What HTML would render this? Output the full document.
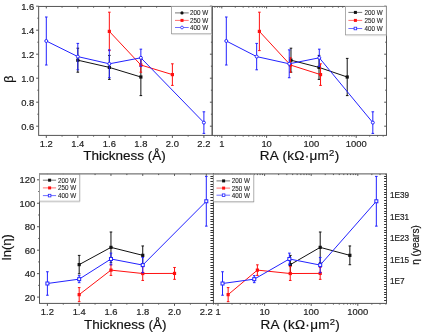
<!DOCTYPE html>
<html><head><meta charset="utf-8"><style>
html,body{margin:0;padding:0;background:#fff;width:422px;height:333px;overflow:hidden;font-family:"Liberation Sans",sans-serif;}
svg{display:block;will-change:transform;}
</style></head><body>
<svg width="422" height="333" viewBox="0 0 422 333" font-family="Liberation Sans, sans-serif">
<style>text{stroke:#222;stroke-width:0.2px;paint-order:stroke;} text.lg{stroke:#333;stroke-width:0.1px;}</style>
<rect width="422" height="333" fill="#fff"/>
<polyline points="77.82,60.20 109.34,67.40 140.86,77.00" fill="none" stroke="#111" stroke-width="1"/>
<line x1="77.82" y1="48.20" x2="77.82" y2="72.20" stroke="#111" stroke-width="1" />
<line x1="76.52" y1="48.20" x2="79.12" y2="48.20" stroke="#111" stroke-width="1" />
<line x1="76.52" y1="72.20" x2="79.12" y2="72.20" stroke="#111" stroke-width="1" />
<line x1="109.34" y1="55.40" x2="109.34" y2="79.40" stroke="#111" stroke-width="1" />
<line x1="108.04" y1="55.40" x2="110.64" y2="55.40" stroke="#111" stroke-width="1" />
<line x1="108.04" y1="79.40" x2="110.64" y2="79.40" stroke="#111" stroke-width="1" />
<line x1="140.86" y1="58.40" x2="140.86" y2="95.60" stroke="#111" stroke-width="1" />
<line x1="139.56" y1="58.40" x2="142.16" y2="58.40" stroke="#111" stroke-width="1" />
<line x1="139.56" y1="95.60" x2="142.16" y2="95.60" stroke="#111" stroke-width="1" />
<rect x="76.22" y="58.60" width="3.2" height="3.2" fill="#111"/>
<rect x="107.74" y="65.80" width="3.2" height="3.2" fill="#111"/>
<rect x="139.26" y="75.40" width="3.2" height="3.2" fill="#111"/>
<polyline points="109.34,31.40 140.86,65.00 172.38,74.60" fill="none" stroke="#ff1010" stroke-width="1"/>
<line x1="109.34" y1="12.20" x2="109.34" y2="50.60" stroke="#ff1010" stroke-width="1" />
<line x1="108.04" y1="12.20" x2="110.64" y2="12.20" stroke="#ff1010" stroke-width="1" />
<line x1="108.04" y1="50.60" x2="110.64" y2="50.60" stroke="#ff1010" stroke-width="1" />
<line x1="140.86" y1="57.80" x2="140.86" y2="72.20" stroke="#ff1010" stroke-width="1" />
<line x1="139.56" y1="57.80" x2="142.16" y2="57.80" stroke="#ff1010" stroke-width="1" />
<line x1="139.56" y1="72.20" x2="142.16" y2="72.20" stroke="#ff1010" stroke-width="1" />
<line x1="172.38" y1="63.80" x2="172.38" y2="85.40" stroke="#ff1010" stroke-width="1" />
<line x1="171.08" y1="63.80" x2="173.68" y2="63.80" stroke="#ff1010" stroke-width="1" />
<line x1="171.08" y1="85.40" x2="173.68" y2="85.40" stroke="#ff1010" stroke-width="1" />
<rect x="107.74" y="29.80" width="3.2" height="3.2" fill="#ff1010"/>
<rect x="139.26" y="63.40" width="3.2" height="3.2" fill="#ff1010"/>
<rect x="170.78" y="73.00" width="3.2" height="3.2" fill="#ff1010"/>
<polyline points="46.30,41.00 77.82,56.60 109.34,63.80 140.86,57.80 203.90,122.60" fill="none" stroke="#2222ff" stroke-width="1"/>
<line x1="46.30" y1="17.00" x2="46.30" y2="65.00" stroke="#2222ff" stroke-width="1" />
<line x1="45.00" y1="17.00" x2="47.60" y2="17.00" stroke="#2222ff" stroke-width="1" />
<line x1="45.00" y1="65.00" x2="47.60" y2="65.00" stroke="#2222ff" stroke-width="1" />
<line x1="77.82" y1="43.40" x2="77.82" y2="69.80" stroke="#2222ff" stroke-width="1" />
<line x1="76.52" y1="43.40" x2="79.12" y2="43.40" stroke="#2222ff" stroke-width="1" />
<line x1="76.52" y1="69.80" x2="79.12" y2="69.80" stroke="#2222ff" stroke-width="1" />
<line x1="109.34" y1="49.88" x2="109.34" y2="77.72" stroke="#2222ff" stroke-width="1" />
<line x1="108.04" y1="49.88" x2="110.64" y2="49.88" stroke="#2222ff" stroke-width="1" />
<line x1="108.04" y1="77.72" x2="110.64" y2="77.72" stroke="#2222ff" stroke-width="1" />
<line x1="140.86" y1="49.16" x2="140.86" y2="66.44" stroke="#2222ff" stroke-width="1" />
<line x1="139.56" y1="49.16" x2="142.16" y2="49.16" stroke="#2222ff" stroke-width="1" />
<line x1="139.56" y1="66.44" x2="142.16" y2="66.44" stroke="#2222ff" stroke-width="1" />
<line x1="203.90" y1="111.80" x2="203.90" y2="133.40" stroke="#2222ff" stroke-width="1" />
<line x1="202.60" y1="111.80" x2="205.20" y2="111.80" stroke="#2222ff" stroke-width="1" />
<line x1="202.60" y1="133.40" x2="205.20" y2="133.40" stroke="#2222ff" stroke-width="1" />
<circle cx="46.30" cy="41.00" r="1.5" fill="#fff" stroke="#2222ff" stroke-width="1"/>
<circle cx="77.82" cy="56.60" r="1.5" fill="#fff" stroke="#2222ff" stroke-width="1"/>
<circle cx="109.34" cy="63.80" r="1.5" fill="#fff" stroke="#2222ff" stroke-width="1"/>
<circle cx="140.86" cy="57.80" r="1.5" fill="#fff" stroke="#2222ff" stroke-width="1"/>
<circle cx="203.90" cy="122.60" r="1.5" fill="#fff" stroke="#2222ff" stroke-width="1"/>
<polyline points="290.97,60.20 319.03,67.40 347.21,77.00" fill="none" stroke="#111" stroke-width="1"/>
<line x1="290.97" y1="48.20" x2="290.97" y2="72.20" stroke="#111" stroke-width="1" />
<line x1="289.67" y1="48.20" x2="292.27" y2="48.20" stroke="#111" stroke-width="1" />
<line x1="289.67" y1="72.20" x2="292.27" y2="72.20" stroke="#111" stroke-width="1" />
<line x1="319.03" y1="55.40" x2="319.03" y2="79.40" stroke="#111" stroke-width="1" />
<line x1="317.73" y1="55.40" x2="320.33" y2="55.40" stroke="#111" stroke-width="1" />
<line x1="317.73" y1="79.40" x2="320.33" y2="79.40" stroke="#111" stroke-width="1" />
<line x1="347.21" y1="58.40" x2="347.21" y2="95.60" stroke="#111" stroke-width="1" />
<line x1="345.91" y1="58.40" x2="348.51" y2="58.40" stroke="#111" stroke-width="1" />
<line x1="345.91" y1="95.60" x2="348.51" y2="95.60" stroke="#111" stroke-width="1" />
<rect x="289.37" y="58.60" width="3.2" height="3.2" fill="#111"/>
<rect x="317.43" y="65.80" width="3.2" height="3.2" fill="#111"/>
<rect x="345.61" y="75.40" width="3.2" height="3.2" fill="#111"/>
<polyline points="259.38,31.40 290.41,65.00 320.54,74.60" fill="none" stroke="#ff1010" stroke-width="1"/>
<line x1="259.38" y1="12.20" x2="259.38" y2="50.60" stroke="#ff1010" stroke-width="1" />
<line x1="258.08" y1="12.20" x2="260.68" y2="12.20" stroke="#ff1010" stroke-width="1" />
<line x1="258.08" y1="50.60" x2="260.68" y2="50.60" stroke="#ff1010" stroke-width="1" />
<line x1="290.41" y1="57.80" x2="290.41" y2="72.20" stroke="#ff1010" stroke-width="1" />
<line x1="289.11" y1="57.80" x2="291.71" y2="57.80" stroke="#ff1010" stroke-width="1" />
<line x1="289.11" y1="72.20" x2="291.71" y2="72.20" stroke="#ff1010" stroke-width="1" />
<line x1="320.54" y1="63.80" x2="320.54" y2="85.40" stroke="#ff1010" stroke-width="1" />
<line x1="319.24" y1="63.80" x2="321.84" y2="63.80" stroke="#ff1010" stroke-width="1" />
<line x1="319.24" y1="85.40" x2="321.84" y2="85.40" stroke="#ff1010" stroke-width="1" />
<rect x="257.78" y="29.80" width="3.2" height="3.2" fill="#ff1010"/>
<rect x="288.81" y="63.40" width="3.2" height="3.2" fill="#ff1010"/>
<rect x="318.94" y="73.00" width="3.2" height="3.2" fill="#ff1010"/>
<polyline points="226.30,41.00 256.66,56.60 289.23,63.80 319.29,57.80 372.82,122.60" fill="none" stroke="#2222ff" stroke-width="1"/>
<line x1="226.30" y1="17.00" x2="226.30" y2="65.00" stroke="#2222ff" stroke-width="1" />
<line x1="225.00" y1="17.00" x2="227.60" y2="17.00" stroke="#2222ff" stroke-width="1" />
<line x1="225.00" y1="65.00" x2="227.60" y2="65.00" stroke="#2222ff" stroke-width="1" />
<line x1="256.66" y1="43.40" x2="256.66" y2="69.80" stroke="#2222ff" stroke-width="1" />
<line x1="255.36" y1="43.40" x2="257.96" y2="43.40" stroke="#2222ff" stroke-width="1" />
<line x1="255.36" y1="69.80" x2="257.96" y2="69.80" stroke="#2222ff" stroke-width="1" />
<line x1="289.23" y1="49.88" x2="289.23" y2="77.72" stroke="#2222ff" stroke-width="1" />
<line x1="287.93" y1="49.88" x2="290.53" y2="49.88" stroke="#2222ff" stroke-width="1" />
<line x1="287.93" y1="77.72" x2="290.53" y2="77.72" stroke="#2222ff" stroke-width="1" />
<line x1="319.29" y1="49.16" x2="319.29" y2="66.44" stroke="#2222ff" stroke-width="1" />
<line x1="317.99" y1="49.16" x2="320.59" y2="49.16" stroke="#2222ff" stroke-width="1" />
<line x1="317.99" y1="66.44" x2="320.59" y2="66.44" stroke="#2222ff" stroke-width="1" />
<line x1="372.82" y1="111.80" x2="372.82" y2="133.40" stroke="#2222ff" stroke-width="1" />
<line x1="371.52" y1="111.80" x2="374.12" y2="111.80" stroke="#2222ff" stroke-width="1" />
<line x1="371.52" y1="133.40" x2="374.12" y2="133.40" stroke="#2222ff" stroke-width="1" />
<circle cx="226.30" cy="41.00" r="1.5" fill="#fff" stroke="#2222ff" stroke-width="1"/>
<circle cx="256.66" cy="56.60" r="1.5" fill="#fff" stroke="#2222ff" stroke-width="1"/>
<circle cx="289.23" cy="63.80" r="1.5" fill="#fff" stroke="#2222ff" stroke-width="1"/>
<circle cx="319.29" cy="57.80" r="1.5" fill="#fff" stroke="#2222ff" stroke-width="1"/>
<circle cx="372.82" cy="122.60" r="1.5" fill="#fff" stroke="#2222ff" stroke-width="1"/>
<polyline points="79.18,264.61 110.96,247.36 142.74,255.34" fill="none" stroke="#111" stroke-width="1"/>
<line x1="79.18" y1="255.40" x2="79.18" y2="273.82" stroke="#111" stroke-width="1" />
<line x1="77.88" y1="255.40" x2="80.48" y2="255.40" stroke="#111" stroke-width="1" />
<line x1="77.88" y1="273.82" x2="80.48" y2="273.82" stroke="#111" stroke-width="1" />
<line x1="110.96" y1="232.00" x2="110.96" y2="262.73" stroke="#111" stroke-width="1" />
<line x1="109.66" y1="232.00" x2="112.26" y2="232.00" stroke="#111" stroke-width="1" />
<line x1="109.66" y1="262.73" x2="112.26" y2="262.73" stroke="#111" stroke-width="1" />
<line x1="142.74" y1="245.96" x2="142.74" y2="264.73" stroke="#111" stroke-width="1" />
<line x1="141.44" y1="245.96" x2="144.04" y2="245.96" stroke="#111" stroke-width="1" />
<line x1="141.44" y1="264.73" x2="144.04" y2="264.73" stroke="#111" stroke-width="1" />
<rect x="77.58" y="263.01" width="3.2" height="3.2" fill="#111"/>
<rect x="109.36" y="245.76" width="3.2" height="3.2" fill="#111"/>
<rect x="141.14" y="253.74" width="3.2" height="3.2" fill="#111"/>
<polyline points="79.18,294.64 110.96,270.12 142.74,273.52 174.52,273.41" fill="none" stroke="#ff1010" stroke-width="1"/>
<line x1="79.18" y1="287.60" x2="79.18" y2="301.67" stroke="#ff1010" stroke-width="1" />
<line x1="77.88" y1="287.60" x2="80.48" y2="287.60" stroke="#ff1010" stroke-width="1" />
<line x1="77.88" y1="301.67" x2="80.48" y2="301.67" stroke="#ff1010" stroke-width="1" />
<line x1="110.96" y1="264.84" x2="110.96" y2="275.40" stroke="#ff1010" stroke-width="1" />
<line x1="109.66" y1="264.84" x2="112.26" y2="264.84" stroke="#ff1010" stroke-width="1" />
<line x1="109.66" y1="275.40" x2="112.26" y2="275.40" stroke="#ff1010" stroke-width="1" />
<line x1="142.74" y1="266.60" x2="142.74" y2="280.44" stroke="#ff1010" stroke-width="1" />
<line x1="141.44" y1="266.60" x2="144.04" y2="266.60" stroke="#ff1010" stroke-width="1" />
<line x1="141.44" y1="280.44" x2="144.04" y2="280.44" stroke="#ff1010" stroke-width="1" />
<line x1="174.52" y1="267.48" x2="174.52" y2="279.33" stroke="#ff1010" stroke-width="1" />
<line x1="173.22" y1="267.48" x2="175.82" y2="267.48" stroke="#ff1010" stroke-width="1" />
<line x1="173.22" y1="279.33" x2="175.82" y2="279.33" stroke="#ff1010" stroke-width="1" />
<rect x="77.58" y="293.04" width="3.2" height="3.2" fill="#ff1010"/>
<rect x="109.36" y="268.52" width="3.2" height="3.2" fill="#ff1010"/>
<rect x="141.14" y="271.92" width="3.2" height="3.2" fill="#ff1010"/>
<rect x="172.92" y="271.81" width="3.2" height="3.2" fill="#ff1010"/>
<polyline points="47.40,283.49 79.18,279.15 110.96,258.98 142.74,265.08 206.30,201.27" fill="none" stroke="#2222ff" stroke-width="1"/>
<line x1="47.40" y1="271.76" x2="47.40" y2="295.22" stroke="#2222ff" stroke-width="1" />
<line x1="46.10" y1="271.76" x2="48.70" y2="271.76" stroke="#2222ff" stroke-width="1" />
<line x1="46.10" y1="295.22" x2="48.70" y2="295.22" stroke="#2222ff" stroke-width="1" />
<line x1="79.18" y1="275.63" x2="79.18" y2="282.67" stroke="#2222ff" stroke-width="1" />
<line x1="77.88" y1="275.63" x2="80.48" y2="275.63" stroke="#2222ff" stroke-width="1" />
<line x1="77.88" y1="282.67" x2="80.48" y2="282.67" stroke="#2222ff" stroke-width="1" />
<line x1="110.96" y1="253.11" x2="110.96" y2="264.84" stroke="#2222ff" stroke-width="1" />
<line x1="109.66" y1="253.11" x2="112.26" y2="253.11" stroke="#2222ff" stroke-width="1" />
<line x1="109.66" y1="264.84" x2="112.26" y2="264.84" stroke="#2222ff" stroke-width="1" />
<line x1="142.74" y1="257.45" x2="142.74" y2="272.70" stroke="#2222ff" stroke-width="1" />
<line x1="141.44" y1="257.45" x2="144.04" y2="257.45" stroke="#2222ff" stroke-width="1" />
<line x1="141.44" y1="272.70" x2="144.04" y2="272.70" stroke="#2222ff" stroke-width="1" />
<line x1="206.30" y1="176.40" x2="206.30" y2="226.13" stroke="#2222ff" stroke-width="1" />
<line x1="205.00" y1="176.40" x2="207.60" y2="176.40" stroke="#2222ff" stroke-width="1" />
<line x1="205.00" y1="226.13" x2="207.60" y2="226.13" stroke="#2222ff" stroke-width="1" />
<rect x="45.90" y="281.99" width="3" height="3" fill="#fff" stroke="#2222ff" stroke-width="1"/>
<rect x="77.68" y="277.65" width="3" height="3" fill="#fff" stroke="#2222ff" stroke-width="1"/>
<rect x="109.46" y="257.48" width="3" height="3" fill="#fff" stroke="#2222ff" stroke-width="1"/>
<rect x="141.24" y="263.58" width="3" height="3" fill="#fff" stroke="#2222ff" stroke-width="1"/>
<rect x="204.80" y="199.77" width="3" height="3" fill="#fff" stroke="#2222ff" stroke-width="1"/>
<polyline points="290.35,264.61 320.20,247.36 349.85,255.34" fill="none" stroke="#111" stroke-width="1"/>
<line x1="290.35" y1="255.40" x2="290.35" y2="273.82" stroke="#111" stroke-width="1" />
<line x1="289.05" y1="255.40" x2="291.65" y2="255.40" stroke="#111" stroke-width="1" />
<line x1="289.05" y1="273.82" x2="291.65" y2="273.82" stroke="#111" stroke-width="1" />
<line x1="320.20" y1="232.00" x2="320.20" y2="262.73" stroke="#111" stroke-width="1" />
<line x1="318.90" y1="232.00" x2="321.50" y2="232.00" stroke="#111" stroke-width="1" />
<line x1="318.90" y1="262.73" x2="321.50" y2="262.73" stroke="#111" stroke-width="1" />
<line x1="349.85" y1="245.96" x2="349.85" y2="264.73" stroke="#111" stroke-width="1" />
<line x1="348.55" y1="245.96" x2="351.15" y2="245.96" stroke="#111" stroke-width="1" />
<line x1="348.55" y1="264.73" x2="351.15" y2="264.73" stroke="#111" stroke-width="1" />
<rect x="288.75" y="263.01" width="3.2" height="3.2" fill="#111"/>
<rect x="318.60" y="245.76" width="3.2" height="3.2" fill="#111"/>
<rect x="348.25" y="253.74" width="3.2" height="3.2" fill="#111"/>
<polyline points="228.13,294.64 257.38,270.12 290.24,273.52 320.20,273.41" fill="none" stroke="#ff1010" stroke-width="1"/>
<line x1="228.13" y1="287.60" x2="228.13" y2="301.67" stroke="#ff1010" stroke-width="1" />
<line x1="226.83" y1="287.60" x2="229.43" y2="287.60" stroke="#ff1010" stroke-width="1" />
<line x1="226.83" y1="301.67" x2="229.43" y2="301.67" stroke="#ff1010" stroke-width="1" />
<line x1="257.38" y1="264.84" x2="257.38" y2="275.40" stroke="#ff1010" stroke-width="1" />
<line x1="256.08" y1="264.84" x2="258.68" y2="264.84" stroke="#ff1010" stroke-width="1" />
<line x1="256.08" y1="275.40" x2="258.68" y2="275.40" stroke="#ff1010" stroke-width="1" />
<line x1="290.24" y1="266.60" x2="290.24" y2="280.44" stroke="#ff1010" stroke-width="1" />
<line x1="288.94" y1="266.60" x2="291.54" y2="266.60" stroke="#ff1010" stroke-width="1" />
<line x1="288.94" y1="280.44" x2="291.54" y2="280.44" stroke="#ff1010" stroke-width="1" />
<line x1="320.20" y1="267.48" x2="320.20" y2="279.33" stroke="#ff1010" stroke-width="1" />
<line x1="318.90" y1="267.48" x2="321.50" y2="267.48" stroke="#ff1010" stroke-width="1" />
<line x1="318.90" y1="279.33" x2="321.50" y2="279.33" stroke="#ff1010" stroke-width="1" />
<rect x="226.53" y="293.04" width="3.2" height="3.2" fill="#ff1010"/>
<rect x="255.78" y="268.52" width="3.2" height="3.2" fill="#ff1010"/>
<rect x="288.64" y="271.92" width="3.2" height="3.2" fill="#ff1010"/>
<rect x="318.60" y="271.81" width="3.2" height="3.2" fill="#ff1010"/>
<polyline points="222.52,283.49 254.26,279.15 289.37,258.98 320.20,265.08 376.34,201.27" fill="none" stroke="#2222ff" stroke-width="1"/>
<line x1="222.52" y1="271.76" x2="222.52" y2="295.22" stroke="#2222ff" stroke-width="1" />
<line x1="221.22" y1="271.76" x2="223.82" y2="271.76" stroke="#2222ff" stroke-width="1" />
<line x1="221.22" y1="295.22" x2="223.82" y2="295.22" stroke="#2222ff" stroke-width="1" />
<line x1="254.26" y1="275.63" x2="254.26" y2="282.67" stroke="#2222ff" stroke-width="1" />
<line x1="252.96" y1="275.63" x2="255.56" y2="275.63" stroke="#2222ff" stroke-width="1" />
<line x1="252.96" y1="282.67" x2="255.56" y2="282.67" stroke="#2222ff" stroke-width="1" />
<line x1="289.37" y1="253.11" x2="289.37" y2="264.84" stroke="#2222ff" stroke-width="1" />
<line x1="288.07" y1="253.11" x2="290.67" y2="253.11" stroke="#2222ff" stroke-width="1" />
<line x1="288.07" y1="264.84" x2="290.67" y2="264.84" stroke="#2222ff" stroke-width="1" />
<line x1="320.20" y1="257.45" x2="320.20" y2="272.70" stroke="#2222ff" stroke-width="1" />
<line x1="318.90" y1="257.45" x2="321.50" y2="257.45" stroke="#2222ff" stroke-width="1" />
<line x1="318.90" y1="272.70" x2="321.50" y2="272.70" stroke="#2222ff" stroke-width="1" />
<line x1="376.34" y1="176.40" x2="376.34" y2="226.13" stroke="#2222ff" stroke-width="1" />
<line x1="375.04" y1="176.40" x2="377.64" y2="176.40" stroke="#2222ff" stroke-width="1" />
<line x1="375.04" y1="226.13" x2="377.64" y2="226.13" stroke="#2222ff" stroke-width="1" />
<rect x="221.02" y="281.99" width="3" height="3" fill="#fff" stroke="#2222ff" stroke-width="1"/>
<rect x="252.76" y="277.65" width="3" height="3" fill="#fff" stroke="#2222ff" stroke-width="1"/>
<rect x="287.87" y="257.48" width="3" height="3" fill="#fff" stroke="#2222ff" stroke-width="1"/>
<rect x="318.70" y="263.58" width="3" height="3" fill="#fff" stroke="#2222ff" stroke-width="1"/>
<rect x="374.84" y="199.77" width="3" height="3" fill="#fff" stroke="#2222ff" stroke-width="1"/>
<rect x="38.65" y="6.45" width="173.55" height="128.95" fill="none" stroke="#555" stroke-width="1.0"/>
<rect x="212.20" y="6.45" width="174.30" height="128.95" fill="none" stroke="#555" stroke-width="1.0"/>
<rect x="39.50" y="173.90" width="173.95" height="129.50" fill="none" stroke="#555" stroke-width="1.0"/>
<rect x="213.45" y="173.90" width="173.05" height="129.50" fill="none" stroke="#555" stroke-width="1.0"/>
<line x1="36.15" y1="126.20" x2="38.65" y2="126.20" stroke="#555" stroke-width="1" />
<line x1="36.15" y1="102.20" x2="38.65" y2="102.20" stroke="#555" stroke-width="1" />
<line x1="36.15" y1="78.20" x2="38.65" y2="78.20" stroke="#555" stroke-width="1" />
<line x1="36.15" y1="54.20" x2="38.65" y2="54.20" stroke="#555" stroke-width="1" />
<line x1="36.15" y1="30.20" x2="38.65" y2="30.20" stroke="#555" stroke-width="1" />
<line x1="36.15" y1="6.20" x2="38.65" y2="6.20" stroke="#555" stroke-width="1" />
<line x1="37.35" y1="114.20" x2="38.65" y2="114.20" stroke="#555" stroke-width="1" />
<line x1="37.35" y1="90.20" x2="38.65" y2="90.20" stroke="#555" stroke-width="1" />
<line x1="37.35" y1="66.20" x2="38.65" y2="66.20" stroke="#555" stroke-width="1" />
<line x1="37.35" y1="42.20" x2="38.65" y2="42.20" stroke="#555" stroke-width="1" />
<line x1="37.35" y1="18.20" x2="38.65" y2="18.20" stroke="#555" stroke-width="1" />
<text transform="translate(34.20,129.60) scale(0.96,1)" font-size="9.8" text-anchor="end" fill="#222">0.6</text>
<text transform="translate(34.20,105.60) scale(0.96,1)" font-size="9.8" text-anchor="end" fill="#222">0.8</text>
<text transform="translate(34.20,81.60) scale(0.96,1)" font-size="9.8" text-anchor="end" fill="#222">1.0</text>
<text transform="translate(34.20,57.60) scale(0.96,1)" font-size="9.8" text-anchor="end" fill="#222">1.2</text>
<text transform="translate(34.20,33.60) scale(0.96,1)" font-size="9.8" text-anchor="end" fill="#222">1.4</text>
<text transform="translate(34.20,9.60) scale(0.96,1)" font-size="9.8" text-anchor="end" fill="#222">1.6</text>
<line x1="209.90" y1="126.20" x2="212.20" y2="126.20" stroke="#555" stroke-width="1" />
<line x1="209.90" y1="102.20" x2="212.20" y2="102.20" stroke="#555" stroke-width="1" />
<line x1="209.90" y1="78.20" x2="212.20" y2="78.20" stroke="#555" stroke-width="1" />
<line x1="209.90" y1="54.20" x2="212.20" y2="54.20" stroke="#555" stroke-width="1" />
<line x1="209.90" y1="30.20" x2="212.20" y2="30.20" stroke="#555" stroke-width="1" />
<line x1="209.90" y1="6.20" x2="212.20" y2="6.20" stroke="#555" stroke-width="1" />
<line x1="210.90" y1="114.20" x2="212.20" y2="114.20" stroke="#555" stroke-width="1" />
<line x1="210.90" y1="90.20" x2="212.20" y2="90.20" stroke="#555" stroke-width="1" />
<line x1="210.90" y1="66.20" x2="212.20" y2="66.20" stroke="#555" stroke-width="1" />
<line x1="210.90" y1="42.20" x2="212.20" y2="42.20" stroke="#555" stroke-width="1" />
<line x1="210.90" y1="18.20" x2="212.20" y2="18.20" stroke="#555" stroke-width="1" />
<line x1="46.30" y1="135.40" x2="46.30" y2="137.90" stroke="#555" stroke-width="1" />
<line x1="77.82" y1="135.40" x2="77.82" y2="137.90" stroke="#555" stroke-width="1" />
<line x1="109.34" y1="135.40" x2="109.34" y2="137.90" stroke="#555" stroke-width="1" />
<line x1="140.86" y1="135.40" x2="140.86" y2="137.90" stroke="#555" stroke-width="1" />
<line x1="172.38" y1="135.40" x2="172.38" y2="137.90" stroke="#555" stroke-width="1" />
<line x1="203.90" y1="135.40" x2="203.90" y2="137.90" stroke="#555" stroke-width="1" />
<line x1="62.06" y1="135.40" x2="62.06" y2="136.60" stroke="#555" stroke-width="1" />
<line x1="93.58" y1="135.40" x2="93.58" y2="136.60" stroke="#555" stroke-width="1" />
<line x1="125.10" y1="135.40" x2="125.10" y2="136.60" stroke="#555" stroke-width="1" />
<line x1="156.62" y1="135.40" x2="156.62" y2="136.60" stroke="#555" stroke-width="1" />
<line x1="188.14" y1="135.40" x2="188.14" y2="136.60" stroke="#555" stroke-width="1" />
<text transform="translate(46.30,147.40) scale(0.96,1)" font-size="9.8" text-anchor="middle" fill="#222">1.2</text>
<text transform="translate(77.82,147.40) scale(0.96,1)" font-size="9.8" text-anchor="middle" fill="#222">1.4</text>
<text transform="translate(109.34,147.40) scale(0.96,1)" font-size="9.8" text-anchor="middle" fill="#222">1.6</text>
<text transform="translate(140.86,147.40) scale(0.96,1)" font-size="9.8" text-anchor="middle" fill="#222">1.8</text>
<text transform="translate(172.38,147.40) scale(0.96,1)" font-size="9.8" text-anchor="middle" fill="#222">2.0</text>
<text transform="translate(203.90,147.40) scale(0.96,1)" font-size="9.8" text-anchor="middle" fill="#222">2.2</text>
<line x1="46.30" y1="6.45" x2="46.30" y2="8.45" stroke="#555" stroke-width="1" />
<line x1="77.82" y1="6.45" x2="77.82" y2="8.45" stroke="#555" stroke-width="1" />
<line x1="109.34" y1="6.45" x2="109.34" y2="8.45" stroke="#555" stroke-width="1" />
<line x1="140.86" y1="6.45" x2="140.86" y2="8.45" stroke="#555" stroke-width="1" />
<line x1="172.38" y1="6.45" x2="172.38" y2="8.45" stroke="#555" stroke-width="1" />
<line x1="203.90" y1="6.45" x2="203.90" y2="8.45" stroke="#555" stroke-width="1" />
<line x1="62.06" y1="6.45" x2="62.06" y2="7.65" stroke="#555" stroke-width="1" />
<line x1="93.58" y1="6.45" x2="93.58" y2="7.65" stroke="#555" stroke-width="1" />
<line x1="125.10" y1="6.45" x2="125.10" y2="7.65" stroke="#555" stroke-width="1" />
<line x1="156.62" y1="6.45" x2="156.62" y2="7.65" stroke="#555" stroke-width="1" />
<line x1="188.14" y1="6.45" x2="188.14" y2="7.65" stroke="#555" stroke-width="1" />
<line x1="384.20" y1="126.20" x2="386.50" y2="126.20" stroke="#555" stroke-width="1" />
<line x1="384.20" y1="102.20" x2="386.50" y2="102.20" stroke="#555" stroke-width="1" />
<line x1="384.20" y1="78.20" x2="386.50" y2="78.20" stroke="#555" stroke-width="1" />
<line x1="384.20" y1="54.20" x2="386.50" y2="54.20" stroke="#555" stroke-width="1" />
<line x1="384.20" y1="30.20" x2="386.50" y2="30.20" stroke="#555" stroke-width="1" />
<line x1="384.20" y1="6.20" x2="386.50" y2="6.20" stroke="#555" stroke-width="1" />
<line x1="385.20" y1="114.20" x2="386.50" y2="114.20" stroke="#555" stroke-width="1" />
<line x1="385.20" y1="90.20" x2="386.50" y2="90.20" stroke="#555" stroke-width="1" />
<line x1="385.20" y1="66.20" x2="386.50" y2="66.20" stroke="#555" stroke-width="1" />
<line x1="385.20" y1="42.20" x2="386.50" y2="42.20" stroke="#555" stroke-width="1" />
<line x1="385.20" y1="18.20" x2="386.50" y2="18.20" stroke="#555" stroke-width="1" />
<line x1="221.80" y1="135.40" x2="221.80" y2="137.90" stroke="#555" stroke-width="1" />
<line x1="266.60" y1="135.40" x2="266.60" y2="137.90" stroke="#555" stroke-width="1" />
<line x1="311.40" y1="135.40" x2="311.40" y2="137.90" stroke="#555" stroke-width="1" />
<line x1="356.20" y1="135.40" x2="356.20" y2="137.90" stroke="#555" stroke-width="1" />
<line x1="214.86" y1="135.40" x2="214.86" y2="136.60" stroke="#555" stroke-width="1" />
<line x1="217.46" y1="135.40" x2="217.46" y2="136.60" stroke="#555" stroke-width="1" />
<line x1="219.75" y1="135.40" x2="219.75" y2="136.60" stroke="#555" stroke-width="1" />
<line x1="235.29" y1="135.40" x2="235.29" y2="136.60" stroke="#555" stroke-width="1" />
<line x1="243.18" y1="135.40" x2="243.18" y2="136.60" stroke="#555" stroke-width="1" />
<line x1="248.77" y1="135.40" x2="248.77" y2="136.60" stroke="#555" stroke-width="1" />
<line x1="253.11" y1="135.40" x2="253.11" y2="136.60" stroke="#555" stroke-width="1" />
<line x1="256.66" y1="135.40" x2="256.66" y2="136.60" stroke="#555" stroke-width="1" />
<line x1="259.66" y1="135.40" x2="259.66" y2="136.60" stroke="#555" stroke-width="1" />
<line x1="262.26" y1="135.40" x2="262.26" y2="136.60" stroke="#555" stroke-width="1" />
<line x1="264.55" y1="135.40" x2="264.55" y2="136.60" stroke="#555" stroke-width="1" />
<line x1="280.09" y1="135.40" x2="280.09" y2="136.60" stroke="#555" stroke-width="1" />
<line x1="287.98" y1="135.40" x2="287.98" y2="136.60" stroke="#555" stroke-width="1" />
<line x1="293.57" y1="135.40" x2="293.57" y2="136.60" stroke="#555" stroke-width="1" />
<line x1="297.91" y1="135.40" x2="297.91" y2="136.60" stroke="#555" stroke-width="1" />
<line x1="301.46" y1="135.40" x2="301.46" y2="136.60" stroke="#555" stroke-width="1" />
<line x1="304.46" y1="135.40" x2="304.46" y2="136.60" stroke="#555" stroke-width="1" />
<line x1="307.06" y1="135.40" x2="307.06" y2="136.60" stroke="#555" stroke-width="1" />
<line x1="309.35" y1="135.40" x2="309.35" y2="136.60" stroke="#555" stroke-width="1" />
<line x1="324.89" y1="135.40" x2="324.89" y2="136.60" stroke="#555" stroke-width="1" />
<line x1="332.78" y1="135.40" x2="332.78" y2="136.60" stroke="#555" stroke-width="1" />
<line x1="338.37" y1="135.40" x2="338.37" y2="136.60" stroke="#555" stroke-width="1" />
<line x1="342.71" y1="135.40" x2="342.71" y2="136.60" stroke="#555" stroke-width="1" />
<line x1="346.26" y1="135.40" x2="346.26" y2="136.60" stroke="#555" stroke-width="1" />
<line x1="349.26" y1="135.40" x2="349.26" y2="136.60" stroke="#555" stroke-width="1" />
<line x1="351.86" y1="135.40" x2="351.86" y2="136.60" stroke="#555" stroke-width="1" />
<line x1="354.15" y1="135.40" x2="354.15" y2="136.60" stroke="#555" stroke-width="1" />
<line x1="369.69" y1="135.40" x2="369.69" y2="136.60" stroke="#555" stroke-width="1" />
<line x1="377.58" y1="135.40" x2="377.58" y2="136.60" stroke="#555" stroke-width="1" />
<line x1="383.17" y1="135.40" x2="383.17" y2="136.60" stroke="#555" stroke-width="1" />
<text transform="translate(221.80,147.40) scale(0.96,1)" font-size="9.8" text-anchor="middle" fill="#222">1</text>
<text transform="translate(266.60,147.40) scale(0.96,1)" font-size="9.8" text-anchor="middle" fill="#222">10</text>
<text transform="translate(311.40,147.40) scale(0.96,1)" font-size="9.8" text-anchor="middle" fill="#222">100</text>
<text transform="translate(356.20,147.40) scale(0.96,1)" font-size="9.8" text-anchor="middle" fill="#222">1000</text>
<line x1="221.80" y1="6.45" x2="221.80" y2="8.45" stroke="#555" stroke-width="1" />
<line x1="266.60" y1="6.45" x2="266.60" y2="8.45" stroke="#555" stroke-width="1" />
<line x1="311.40" y1="6.45" x2="311.40" y2="8.45" stroke="#555" stroke-width="1" />
<line x1="356.20" y1="6.45" x2="356.20" y2="8.45" stroke="#555" stroke-width="1" />
<line x1="214.86" y1="6.45" x2="214.86" y2="7.65" stroke="#555" stroke-width="1" />
<line x1="217.46" y1="6.45" x2="217.46" y2="7.65" stroke="#555" stroke-width="1" />
<line x1="219.75" y1="6.45" x2="219.75" y2="7.65" stroke="#555" stroke-width="1" />
<line x1="235.29" y1="6.45" x2="235.29" y2="7.65" stroke="#555" stroke-width="1" />
<line x1="243.18" y1="6.45" x2="243.18" y2="7.65" stroke="#555" stroke-width="1" />
<line x1="248.77" y1="6.45" x2="248.77" y2="7.65" stroke="#555" stroke-width="1" />
<line x1="253.11" y1="6.45" x2="253.11" y2="7.65" stroke="#555" stroke-width="1" />
<line x1="256.66" y1="6.45" x2="256.66" y2="7.65" stroke="#555" stroke-width="1" />
<line x1="259.66" y1="6.45" x2="259.66" y2="7.65" stroke="#555" stroke-width="1" />
<line x1="262.26" y1="6.45" x2="262.26" y2="7.65" stroke="#555" stroke-width="1" />
<line x1="264.55" y1="6.45" x2="264.55" y2="7.65" stroke="#555" stroke-width="1" />
<line x1="280.09" y1="6.45" x2="280.09" y2="7.65" stroke="#555" stroke-width="1" />
<line x1="287.98" y1="6.45" x2="287.98" y2="7.65" stroke="#555" stroke-width="1" />
<line x1="293.57" y1="6.45" x2="293.57" y2="7.65" stroke="#555" stroke-width="1" />
<line x1="297.91" y1="6.45" x2="297.91" y2="7.65" stroke="#555" stroke-width="1" />
<line x1="301.46" y1="6.45" x2="301.46" y2="7.65" stroke="#555" stroke-width="1" />
<line x1="304.46" y1="6.45" x2="304.46" y2="7.65" stroke="#555" stroke-width="1" />
<line x1="307.06" y1="6.45" x2="307.06" y2="7.65" stroke="#555" stroke-width="1" />
<line x1="309.35" y1="6.45" x2="309.35" y2="7.65" stroke="#555" stroke-width="1" />
<line x1="324.89" y1="6.45" x2="324.89" y2="7.65" stroke="#555" stroke-width="1" />
<line x1="332.78" y1="6.45" x2="332.78" y2="7.65" stroke="#555" stroke-width="1" />
<line x1="338.37" y1="6.45" x2="338.37" y2="7.65" stroke="#555" stroke-width="1" />
<line x1="342.71" y1="6.45" x2="342.71" y2="7.65" stroke="#555" stroke-width="1" />
<line x1="346.26" y1="6.45" x2="346.26" y2="7.65" stroke="#555" stroke-width="1" />
<line x1="349.26" y1="6.45" x2="349.26" y2="7.65" stroke="#555" stroke-width="1" />
<line x1="351.86" y1="6.45" x2="351.86" y2="7.65" stroke="#555" stroke-width="1" />
<line x1="354.15" y1="6.45" x2="354.15" y2="7.65" stroke="#555" stroke-width="1" />
<line x1="369.69" y1="6.45" x2="369.69" y2="7.65" stroke="#555" stroke-width="1" />
<line x1="377.58" y1="6.45" x2="377.58" y2="7.65" stroke="#555" stroke-width="1" />
<line x1="383.17" y1="6.45" x2="383.17" y2="7.65" stroke="#555" stroke-width="1" />
<line x1="37.00" y1="297.10" x2="39.50" y2="297.10" stroke="#555" stroke-width="1" />
<line x1="37.00" y1="273.64" x2="39.50" y2="273.64" stroke="#555" stroke-width="1" />
<line x1="37.00" y1="250.18" x2="39.50" y2="250.18" stroke="#555" stroke-width="1" />
<line x1="37.00" y1="226.72" x2="39.50" y2="226.72" stroke="#555" stroke-width="1" />
<line x1="37.00" y1="203.26" x2="39.50" y2="203.26" stroke="#555" stroke-width="1" />
<line x1="37.00" y1="179.80" x2="39.50" y2="179.80" stroke="#555" stroke-width="1" />
<line x1="38.20" y1="285.37" x2="39.50" y2="285.37" stroke="#555" stroke-width="1" />
<line x1="38.20" y1="261.91" x2="39.50" y2="261.91" stroke="#555" stroke-width="1" />
<line x1="38.20" y1="238.45" x2="39.50" y2="238.45" stroke="#555" stroke-width="1" />
<line x1="38.20" y1="214.99" x2="39.50" y2="214.99" stroke="#555" stroke-width="1" />
<line x1="38.20" y1="191.53" x2="39.50" y2="191.53" stroke="#555" stroke-width="1" />
<text transform="translate(35.20,300.50) scale(0.96,1)" font-size="9.8" text-anchor="end" fill="#222">20</text>
<text transform="translate(35.20,277.04) scale(0.96,1)" font-size="9.8" text-anchor="end" fill="#222">40</text>
<text transform="translate(35.20,253.58) scale(0.96,1)" font-size="9.8" text-anchor="end" fill="#222">60</text>
<text transform="translate(35.20,230.12) scale(0.96,1)" font-size="9.8" text-anchor="end" fill="#222">80</text>
<text transform="translate(35.20,206.66) scale(0.96,1)" font-size="9.8" text-anchor="end" fill="#222">100</text>
<text transform="translate(35.20,183.20) scale(0.96,1)" font-size="9.8" text-anchor="end" fill="#222">120</text>
<line x1="47.40" y1="303.40" x2="47.40" y2="305.90" stroke="#555" stroke-width="1" />
<line x1="79.18" y1="303.40" x2="79.18" y2="305.90" stroke="#555" stroke-width="1" />
<line x1="110.96" y1="303.40" x2="110.96" y2="305.90" stroke="#555" stroke-width="1" />
<line x1="142.74" y1="303.40" x2="142.74" y2="305.90" stroke="#555" stroke-width="1" />
<line x1="174.52" y1="303.40" x2="174.52" y2="305.90" stroke="#555" stroke-width="1" />
<line x1="206.30" y1="303.40" x2="206.30" y2="305.90" stroke="#555" stroke-width="1" />
<line x1="63.29" y1="303.40" x2="63.29" y2="304.60" stroke="#555" stroke-width="1" />
<line x1="95.07" y1="303.40" x2="95.07" y2="304.60" stroke="#555" stroke-width="1" />
<line x1="126.85" y1="303.40" x2="126.85" y2="304.60" stroke="#555" stroke-width="1" />
<line x1="158.63" y1="303.40" x2="158.63" y2="304.60" stroke="#555" stroke-width="1" />
<line x1="190.41" y1="303.40" x2="190.41" y2="304.60" stroke="#555" stroke-width="1" />
<text transform="translate(47.40,315.20) scale(0.96,1)" font-size="9.8" text-anchor="middle" fill="#222">1.2</text>
<text transform="translate(79.18,315.20) scale(0.96,1)" font-size="9.8" text-anchor="middle" fill="#222">1.4</text>
<text transform="translate(110.96,315.20) scale(0.96,1)" font-size="9.8" text-anchor="middle" fill="#222">1.6</text>
<text transform="translate(142.74,315.20) scale(0.96,1)" font-size="9.8" text-anchor="middle" fill="#222">1.8</text>
<text transform="translate(174.52,315.20) scale(0.96,1)" font-size="9.8" text-anchor="middle" fill="#222">2.0</text>
<text transform="translate(206.30,315.20) scale(0.96,1)" font-size="9.8" text-anchor="middle" fill="#222">2.2</text>
<line x1="47.40" y1="173.90" x2="47.40" y2="175.90" stroke="#555" stroke-width="1" />
<line x1="79.18" y1="173.90" x2="79.18" y2="175.90" stroke="#555" stroke-width="1" />
<line x1="110.96" y1="173.90" x2="110.96" y2="175.90" stroke="#555" stroke-width="1" />
<line x1="142.74" y1="173.90" x2="142.74" y2="175.90" stroke="#555" stroke-width="1" />
<line x1="174.52" y1="173.90" x2="174.52" y2="175.90" stroke="#555" stroke-width="1" />
<line x1="206.30" y1="173.90" x2="206.30" y2="175.90" stroke="#555" stroke-width="1" />
<line x1="63.29" y1="173.90" x2="63.29" y2="175.10" stroke="#555" stroke-width="1" />
<line x1="95.07" y1="173.90" x2="95.07" y2="175.10" stroke="#555" stroke-width="1" />
<line x1="126.85" y1="173.90" x2="126.85" y2="175.10" stroke="#555" stroke-width="1" />
<line x1="158.63" y1="173.90" x2="158.63" y2="175.10" stroke="#555" stroke-width="1" />
<line x1="190.41" y1="173.90" x2="190.41" y2="175.10" stroke="#555" stroke-width="1" />
<line x1="218.00" y1="303.40" x2="218.00" y2="305.90" stroke="#555" stroke-width="1" />
<line x1="264.60" y1="303.40" x2="264.60" y2="305.90" stroke="#555" stroke-width="1" />
<line x1="311.20" y1="303.40" x2="311.20" y2="305.90" stroke="#555" stroke-width="1" />
<line x1="357.80" y1="303.40" x2="357.80" y2="305.90" stroke="#555" stroke-width="1" />
<line x1="213.48" y1="303.40" x2="213.48" y2="304.60" stroke="#555" stroke-width="1" />
<line x1="215.87" y1="303.40" x2="215.87" y2="304.60" stroke="#555" stroke-width="1" />
<line x1="232.03" y1="303.40" x2="232.03" y2="304.60" stroke="#555" stroke-width="1" />
<line x1="240.23" y1="303.40" x2="240.23" y2="304.60" stroke="#555" stroke-width="1" />
<line x1="246.06" y1="303.40" x2="246.06" y2="304.60" stroke="#555" stroke-width="1" />
<line x1="250.57" y1="303.40" x2="250.57" y2="304.60" stroke="#555" stroke-width="1" />
<line x1="254.26" y1="303.40" x2="254.26" y2="304.60" stroke="#555" stroke-width="1" />
<line x1="257.38" y1="303.40" x2="257.38" y2="304.60" stroke="#555" stroke-width="1" />
<line x1="260.08" y1="303.40" x2="260.08" y2="304.60" stroke="#555" stroke-width="1" />
<line x1="262.47" y1="303.40" x2="262.47" y2="304.60" stroke="#555" stroke-width="1" />
<line x1="278.63" y1="303.40" x2="278.63" y2="304.60" stroke="#555" stroke-width="1" />
<line x1="286.83" y1="303.40" x2="286.83" y2="304.60" stroke="#555" stroke-width="1" />
<line x1="292.66" y1="303.40" x2="292.66" y2="304.60" stroke="#555" stroke-width="1" />
<line x1="297.17" y1="303.40" x2="297.17" y2="304.60" stroke="#555" stroke-width="1" />
<line x1="300.86" y1="303.40" x2="300.86" y2="304.60" stroke="#555" stroke-width="1" />
<line x1="303.98" y1="303.40" x2="303.98" y2="304.60" stroke="#555" stroke-width="1" />
<line x1="306.68" y1="303.40" x2="306.68" y2="304.60" stroke="#555" stroke-width="1" />
<line x1="309.07" y1="303.40" x2="309.07" y2="304.60" stroke="#555" stroke-width="1" />
<line x1="325.23" y1="303.40" x2="325.23" y2="304.60" stroke="#555" stroke-width="1" />
<line x1="333.43" y1="303.40" x2="333.43" y2="304.60" stroke="#555" stroke-width="1" />
<line x1="339.26" y1="303.40" x2="339.26" y2="304.60" stroke="#555" stroke-width="1" />
<line x1="343.77" y1="303.40" x2="343.77" y2="304.60" stroke="#555" stroke-width="1" />
<line x1="347.46" y1="303.40" x2="347.46" y2="304.60" stroke="#555" stroke-width="1" />
<line x1="350.58" y1="303.40" x2="350.58" y2="304.60" stroke="#555" stroke-width="1" />
<line x1="353.28" y1="303.40" x2="353.28" y2="304.60" stroke="#555" stroke-width="1" />
<line x1="355.67" y1="303.40" x2="355.67" y2="304.60" stroke="#555" stroke-width="1" />
<line x1="371.83" y1="303.40" x2="371.83" y2="304.60" stroke="#555" stroke-width="1" />
<line x1="380.03" y1="303.40" x2="380.03" y2="304.60" stroke="#555" stroke-width="1" />
<line x1="385.86" y1="303.40" x2="385.86" y2="304.60" stroke="#555" stroke-width="1" />
<text transform="translate(218.00,315.20) scale(0.96,1)" font-size="9.8" text-anchor="middle" fill="#222">1</text>
<text transform="translate(264.60,315.20) scale(0.96,1)" font-size="9.8" text-anchor="middle" fill="#222">10</text>
<text transform="translate(311.20,315.20) scale(0.96,1)" font-size="9.8" text-anchor="middle" fill="#222">100</text>
<text transform="translate(357.80,315.20) scale(0.96,1)" font-size="9.8" text-anchor="middle" fill="#222">1000</text>
<line x1="218.00" y1="173.90" x2="218.00" y2="175.90" stroke="#555" stroke-width="1" />
<line x1="264.60" y1="173.90" x2="264.60" y2="175.90" stroke="#555" stroke-width="1" />
<line x1="311.20" y1="173.90" x2="311.20" y2="175.90" stroke="#555" stroke-width="1" />
<line x1="357.80" y1="173.90" x2="357.80" y2="175.90" stroke="#555" stroke-width="1" />
<line x1="213.48" y1="173.90" x2="213.48" y2="175.10" stroke="#555" stroke-width="1" />
<line x1="215.87" y1="173.90" x2="215.87" y2="175.10" stroke="#555" stroke-width="1" />
<line x1="232.03" y1="173.90" x2="232.03" y2="175.10" stroke="#555" stroke-width="1" />
<line x1="240.23" y1="173.90" x2="240.23" y2="175.10" stroke="#555" stroke-width="1" />
<line x1="246.06" y1="173.90" x2="246.06" y2="175.10" stroke="#555" stroke-width="1" />
<line x1="250.57" y1="173.90" x2="250.57" y2="175.10" stroke="#555" stroke-width="1" />
<line x1="254.26" y1="173.90" x2="254.26" y2="175.10" stroke="#555" stroke-width="1" />
<line x1="257.38" y1="173.90" x2="257.38" y2="175.10" stroke="#555" stroke-width="1" />
<line x1="260.08" y1="173.90" x2="260.08" y2="175.10" stroke="#555" stroke-width="1" />
<line x1="262.47" y1="173.90" x2="262.47" y2="175.10" stroke="#555" stroke-width="1" />
<line x1="278.63" y1="173.90" x2="278.63" y2="175.10" stroke="#555" stroke-width="1" />
<line x1="286.83" y1="173.90" x2="286.83" y2="175.10" stroke="#555" stroke-width="1" />
<line x1="292.66" y1="173.90" x2="292.66" y2="175.10" stroke="#555" stroke-width="1" />
<line x1="297.17" y1="173.90" x2="297.17" y2="175.10" stroke="#555" stroke-width="1" />
<line x1="300.86" y1="173.90" x2="300.86" y2="175.10" stroke="#555" stroke-width="1" />
<line x1="303.98" y1="173.90" x2="303.98" y2="175.10" stroke="#555" stroke-width="1" />
<line x1="306.68" y1="173.90" x2="306.68" y2="175.10" stroke="#555" stroke-width="1" />
<line x1="309.07" y1="173.90" x2="309.07" y2="175.10" stroke="#555" stroke-width="1" />
<line x1="325.23" y1="173.90" x2="325.23" y2="175.10" stroke="#555" stroke-width="1" />
<line x1="333.43" y1="173.90" x2="333.43" y2="175.10" stroke="#555" stroke-width="1" />
<line x1="339.26" y1="173.90" x2="339.26" y2="175.10" stroke="#555" stroke-width="1" />
<line x1="343.77" y1="173.90" x2="343.77" y2="175.10" stroke="#555" stroke-width="1" />
<line x1="347.46" y1="173.90" x2="347.46" y2="175.10" stroke="#555" stroke-width="1" />
<line x1="350.58" y1="173.90" x2="350.58" y2="175.10" stroke="#555" stroke-width="1" />
<line x1="353.28" y1="173.90" x2="353.28" y2="175.10" stroke="#555" stroke-width="1" />
<line x1="355.67" y1="173.90" x2="355.67" y2="175.10" stroke="#555" stroke-width="1" />
<line x1="371.83" y1="173.90" x2="371.83" y2="175.10" stroke="#555" stroke-width="1" />
<line x1="380.03" y1="173.90" x2="380.03" y2="175.10" stroke="#555" stroke-width="1" />
<line x1="385.86" y1="173.90" x2="385.86" y2="175.10" stroke="#555" stroke-width="1" />
<line x1="384.10" y1="300.50" x2="386.50" y2="300.50" stroke="#333" stroke-width="1" />
<line x1="210.45" y1="300.50" x2="213.45" y2="300.50" stroke="#333" stroke-width="1" />
<line x1="384.10" y1="297.50" x2="386.50" y2="297.50" stroke="#333" stroke-width="1" />
<line x1="210.45" y1="297.50" x2="213.45" y2="297.50" stroke="#333" stroke-width="1" />
<line x1="384.10" y1="294.50" x2="386.50" y2="294.50" stroke="#333" stroke-width="1" />
<line x1="210.45" y1="294.50" x2="213.45" y2="294.50" stroke="#333" stroke-width="1" />
<line x1="384.10" y1="292.50" x2="386.50" y2="292.50" stroke="#333" stroke-width="1" />
<line x1="210.45" y1="292.50" x2="213.45" y2="292.50" stroke="#333" stroke-width="1" />
<line x1="384.10" y1="289.50" x2="386.50" y2="289.50" stroke="#333" stroke-width="1" />
<line x1="210.45" y1="289.50" x2="213.45" y2="289.50" stroke="#333" stroke-width="1" />
<line x1="384.10" y1="286.50" x2="386.50" y2="286.50" stroke="#333" stroke-width="1" />
<line x1="210.45" y1="286.50" x2="213.45" y2="286.50" stroke="#333" stroke-width="1" />
<line x1="384.10" y1="284.50" x2="386.50" y2="284.50" stroke="#333" stroke-width="1" />
<line x1="210.45" y1="284.50" x2="213.45" y2="284.50" stroke="#333" stroke-width="1" />
<line x1="384.10" y1="281.50" x2="386.50" y2="281.50" stroke="#333" stroke-width="1" />
<line x1="210.45" y1="281.50" x2="213.45" y2="281.50" stroke="#333" stroke-width="1" />
<line x1="384.10" y1="278.50" x2="386.50" y2="278.50" stroke="#333" stroke-width="1" />
<line x1="210.45" y1="278.50" x2="213.45" y2="278.50" stroke="#333" stroke-width="1" />
<line x1="384.10" y1="276.50" x2="386.50" y2="276.50" stroke="#333" stroke-width="1" />
<line x1="210.45" y1="276.50" x2="213.45" y2="276.50" stroke="#333" stroke-width="1" />
<line x1="384.10" y1="273.50" x2="386.50" y2="273.50" stroke="#333" stroke-width="1" />
<line x1="210.45" y1="273.50" x2="213.45" y2="273.50" stroke="#333" stroke-width="1" />
<line x1="384.10" y1="270.50" x2="386.50" y2="270.50" stroke="#333" stroke-width="1" />
<line x1="210.45" y1="270.50" x2="213.45" y2="270.50" stroke="#333" stroke-width="1" />
<line x1="384.10" y1="267.50" x2="386.50" y2="267.50" stroke="#333" stroke-width="1" />
<line x1="210.45" y1="267.50" x2="213.45" y2="267.50" stroke="#333" stroke-width="1" />
<line x1="384.10" y1="265.50" x2="386.50" y2="265.50" stroke="#333" stroke-width="1" />
<line x1="210.45" y1="265.50" x2="213.45" y2="265.50" stroke="#333" stroke-width="1" />
<line x1="384.10" y1="262.50" x2="386.50" y2="262.50" stroke="#333" stroke-width="1" />
<line x1="210.45" y1="262.50" x2="213.45" y2="262.50" stroke="#333" stroke-width="1" />
<line x1="384.10" y1="259.50" x2="386.50" y2="259.50" stroke="#333" stroke-width="1" />
<line x1="210.45" y1="259.50" x2="213.45" y2="259.50" stroke="#333" stroke-width="1" />
<line x1="384.10" y1="257.50" x2="386.50" y2="257.50" stroke="#333" stroke-width="1" />
<line x1="210.45" y1="257.50" x2="213.45" y2="257.50" stroke="#333" stroke-width="1" />
<line x1="384.10" y1="254.50" x2="386.50" y2="254.50" stroke="#333" stroke-width="1" />
<line x1="210.45" y1="254.50" x2="213.45" y2="254.50" stroke="#333" stroke-width="1" />
<line x1="384.10" y1="251.50" x2="386.50" y2="251.50" stroke="#333" stroke-width="1" />
<line x1="210.45" y1="251.50" x2="213.45" y2="251.50" stroke="#333" stroke-width="1" />
<line x1="384.10" y1="248.50" x2="386.50" y2="248.50" stroke="#333" stroke-width="1" />
<line x1="210.45" y1="248.50" x2="213.45" y2="248.50" stroke="#333" stroke-width="1" />
<line x1="384.10" y1="246.50" x2="386.50" y2="246.50" stroke="#333" stroke-width="1" />
<line x1="210.45" y1="246.50" x2="213.45" y2="246.50" stroke="#333" stroke-width="1" />
<line x1="384.10" y1="243.50" x2="386.50" y2="243.50" stroke="#333" stroke-width="1" />
<line x1="210.45" y1="243.50" x2="213.45" y2="243.50" stroke="#333" stroke-width="1" />
<line x1="384.10" y1="240.50" x2="386.50" y2="240.50" stroke="#333" stroke-width="1" />
<line x1="210.45" y1="240.50" x2="213.45" y2="240.50" stroke="#333" stroke-width="1" />
<line x1="384.10" y1="238.50" x2="386.50" y2="238.50" stroke="#333" stroke-width="1" />
<line x1="210.45" y1="238.50" x2="213.45" y2="238.50" stroke="#333" stroke-width="1" />
<line x1="384.10" y1="235.50" x2="386.50" y2="235.50" stroke="#333" stroke-width="1" />
<line x1="210.45" y1="235.50" x2="213.45" y2="235.50" stroke="#333" stroke-width="1" />
<line x1="384.10" y1="232.50" x2="386.50" y2="232.50" stroke="#333" stroke-width="1" />
<line x1="210.45" y1="232.50" x2="213.45" y2="232.50" stroke="#333" stroke-width="1" />
<line x1="384.10" y1="230.50" x2="386.50" y2="230.50" stroke="#333" stroke-width="1" />
<line x1="210.45" y1="230.50" x2="213.45" y2="230.50" stroke="#333" stroke-width="1" />
<line x1="384.10" y1="227.50" x2="386.50" y2="227.50" stroke="#333" stroke-width="1" />
<line x1="210.45" y1="227.50" x2="213.45" y2="227.50" stroke="#333" stroke-width="1" />
<line x1="384.10" y1="224.50" x2="386.50" y2="224.50" stroke="#333" stroke-width="1" />
<line x1="210.45" y1="224.50" x2="213.45" y2="224.50" stroke="#333" stroke-width="1" />
<line x1="384.10" y1="221.50" x2="386.50" y2="221.50" stroke="#333" stroke-width="1" />
<line x1="210.45" y1="221.50" x2="213.45" y2="221.50" stroke="#333" stroke-width="1" />
<line x1="384.10" y1="219.50" x2="386.50" y2="219.50" stroke="#333" stroke-width="1" />
<line x1="210.45" y1="219.50" x2="213.45" y2="219.50" stroke="#333" stroke-width="1" />
<line x1="384.10" y1="216.50" x2="386.50" y2="216.50" stroke="#333" stroke-width="1" />
<line x1="210.45" y1="216.50" x2="213.45" y2="216.50" stroke="#333" stroke-width="1" />
<line x1="384.10" y1="213.50" x2="386.50" y2="213.50" stroke="#333" stroke-width="1" />
<line x1="210.45" y1="213.50" x2="213.45" y2="213.50" stroke="#333" stroke-width="1" />
<line x1="384.10" y1="211.50" x2="386.50" y2="211.50" stroke="#333" stroke-width="1" />
<line x1="210.45" y1="211.50" x2="213.45" y2="211.50" stroke="#333" stroke-width="1" />
<line x1="384.10" y1="208.50" x2="386.50" y2="208.50" stroke="#333" stroke-width="1" />
<line x1="210.45" y1="208.50" x2="213.45" y2="208.50" stroke="#333" stroke-width="1" />
<line x1="384.10" y1="205.50" x2="386.50" y2="205.50" stroke="#333" stroke-width="1" />
<line x1="210.45" y1="205.50" x2="213.45" y2="205.50" stroke="#333" stroke-width="1" />
<line x1="384.10" y1="203.50" x2="386.50" y2="203.50" stroke="#333" stroke-width="1" />
<line x1="210.45" y1="203.50" x2="213.45" y2="203.50" stroke="#333" stroke-width="1" />
<line x1="384.10" y1="200.50" x2="386.50" y2="200.50" stroke="#333" stroke-width="1" />
<line x1="210.45" y1="200.50" x2="213.45" y2="200.50" stroke="#333" stroke-width="1" />
<line x1="384.10" y1="197.50" x2="386.50" y2="197.50" stroke="#333" stroke-width="1" />
<line x1="210.45" y1="197.50" x2="213.45" y2="197.50" stroke="#333" stroke-width="1" />
<line x1="384.10" y1="194.50" x2="386.50" y2="194.50" stroke="#333" stroke-width="1" />
<line x1="210.45" y1="194.50" x2="213.45" y2="194.50" stroke="#333" stroke-width="1" />
<line x1="384.10" y1="192.50" x2="386.50" y2="192.50" stroke="#333" stroke-width="1" />
<line x1="210.45" y1="192.50" x2="213.45" y2="192.50" stroke="#333" stroke-width="1" />
<line x1="384.10" y1="189.50" x2="386.50" y2="189.50" stroke="#333" stroke-width="1" />
<line x1="210.45" y1="189.50" x2="213.45" y2="189.50" stroke="#333" stroke-width="1" />
<line x1="384.10" y1="186.50" x2="386.50" y2="186.50" stroke="#333" stroke-width="1" />
<line x1="210.45" y1="186.50" x2="213.45" y2="186.50" stroke="#333" stroke-width="1" />
<line x1="384.10" y1="184.50" x2="386.50" y2="184.50" stroke="#333" stroke-width="1" />
<line x1="210.45" y1="184.50" x2="213.45" y2="184.50" stroke="#333" stroke-width="1" />
<line x1="384.10" y1="181.50" x2="386.50" y2="181.50" stroke="#333" stroke-width="1" />
<line x1="210.45" y1="181.50" x2="213.45" y2="181.50" stroke="#333" stroke-width="1" />
<line x1="384.10" y1="178.50" x2="386.50" y2="178.50" stroke="#333" stroke-width="1" />
<line x1="210.45" y1="178.50" x2="213.45" y2="178.50" stroke="#333" stroke-width="1" />
<line x1="384.10" y1="176.50" x2="386.50" y2="176.50" stroke="#333" stroke-width="1" />
<line x1="210.45" y1="176.50" x2="213.45" y2="176.50" stroke="#333" stroke-width="1" />
<text x="390.00" y="284.30" font-size="8.2" text-anchor="start" fill="#222">1E7</text>
<text x="390.00" y="262.70" font-size="8.2" text-anchor="start" fill="#222">1E15</text>
<text x="390.00" y="241.10" font-size="8.2" text-anchor="start" fill="#222">1E23</text>
<text x="390.00" y="219.50" font-size="8.2" text-anchor="start" fill="#222">1E31</text>
<text x="390.00" y="197.90" font-size="8.2" text-anchor="start" fill="#222">1E39</text>
<rect x="171.50" y="6.50" width="40.00" height="27.30" fill="#fff" stroke="#999" stroke-width="0.8"/>
<line x1="172.00" y1="34.60" x2="211.50" y2="34.60" stroke="#ddd" stroke-width="1" />
<line x1="175.00" y1="12.90" x2="188.70" y2="12.90" stroke="#555" stroke-width="0.8" />
<circle cx="182.00" cy="12.90" r="1.6" fill="#111"/>
<text transform="translate(190.10,15.35) scale(0.94,1)" font-size="6.7" text-anchor="start" fill="#222" class="lg">200 W</text>
<line x1="175.00" y1="20.40" x2="188.70" y2="20.40" stroke="#ff4a4a" stroke-width="0.8" />
<rect x="180.50" y="18.90" width="3" height="3" fill="#ff1010"/>
<text transform="translate(190.10,22.85) scale(0.94,1)" font-size="6.7" text-anchor="start" fill="#222" class="lg">250 W</text>
<line x1="175.00" y1="27.50" x2="188.70" y2="27.50" stroke="#4a4aff" stroke-width="0.8" />
<circle cx="182.00" cy="27.50" r="1.4" fill="#fff" stroke="#2222ff" stroke-width="0.8"/>
<text transform="translate(190.10,29.95) scale(0.94,1)" font-size="6.7" text-anchor="start" fill="#222" class="lg">400 W</text>
<rect x="345.40" y="6.50" width="40.90" height="28.40" fill="#fff" stroke="#999" stroke-width="0.8"/>
<line x1="345.90" y1="35.70" x2="386.30" y2="35.70" stroke="#ddd" stroke-width="1" />
<line x1="348.40" y1="12.40" x2="362.20" y2="12.40" stroke="#555" stroke-width="0.8" />
<rect x="353.90" y="10.90" width="3" height="3" fill="#111"/>
<text transform="translate(364.60,14.85) scale(0.94,1)" font-size="6.7" text-anchor="start" fill="#222" class="lg">200 W</text>
<line x1="348.40" y1="20.40" x2="362.20" y2="20.40" stroke="#ff4a4a" stroke-width="0.8" />
<rect x="353.90" y="18.90" width="3" height="3" fill="#ff1010"/>
<text transform="translate(364.60,22.85) scale(0.94,1)" font-size="6.7" text-anchor="start" fill="#222" class="lg">250 W</text>
<line x1="348.40" y1="28.50" x2="362.20" y2="28.50" stroke="#4a4aff" stroke-width="0.8" />
<rect x="354.10" y="27.20" width="2.6" height="2.6" fill="#fff" stroke="#2222ff" stroke-width="0.8"/>
<text transform="translate(364.60,30.95) scale(0.94,1)" font-size="6.7" text-anchor="start" fill="#222" class="lg">400 W</text>
<rect x="39.60" y="174.50" width="40.20" height="26.70" fill="#fff" stroke="#999" stroke-width="0.8"/>
<line x1="40.10" y1="202.00" x2="79.80" y2="202.00" stroke="#ddd" stroke-width="1" />
<line x1="42.90" y1="180.20" x2="56.10" y2="180.20" stroke="#555" stroke-width="0.8" />
<rect x="48.10" y="178.70" width="3" height="3" fill="#111"/>
<text transform="translate(57.90,182.65) scale(0.94,1)" font-size="6.7" text-anchor="start" fill="#222" class="lg">200 W</text>
<line x1="42.90" y1="187.90" x2="56.10" y2="187.90" stroke="#ff4a4a" stroke-width="0.8" />
<rect x="48.10" y="186.40" width="3" height="3" fill="#ff1010"/>
<text transform="translate(57.90,190.35) scale(0.94,1)" font-size="6.7" text-anchor="start" fill="#222" class="lg">250 W</text>
<line x1="42.90" y1="195.60" x2="56.10" y2="195.60" stroke="#4a4aff" stroke-width="0.8" />
<rect x="48.30" y="194.30" width="2.6" height="2.6" fill="#fff" stroke="#2222ff" stroke-width="0.8"/>
<text transform="translate(57.90,198.05) scale(0.94,1)" font-size="6.7" text-anchor="start" fill="#222" class="lg">400 W</text>
<rect x="213.60" y="174.50" width="40.20" height="27.30" fill="#fff" stroke="#999" stroke-width="0.8"/>
<line x1="214.10" y1="202.60" x2="253.80" y2="202.60" stroke="#ddd" stroke-width="1" />
<line x1="216.50" y1="180.90" x2="230.10" y2="180.90" stroke="#555" stroke-width="0.8" />
<rect x="222.10" y="179.40" width="3" height="3" fill="#111"/>
<text transform="translate(231.70,183.35) scale(0.94,1)" font-size="6.7" text-anchor="start" fill="#222" class="lg">200 W</text>
<line x1="216.50" y1="188.10" x2="230.10" y2="188.10" stroke="#ff4a4a" stroke-width="0.8" />
<rect x="222.10" y="186.60" width="3" height="3" fill="#ff1010"/>
<text transform="translate(231.70,190.55) scale(0.94,1)" font-size="6.7" text-anchor="start" fill="#222" class="lg">250 W</text>
<line x1="216.50" y1="195.20" x2="230.10" y2="195.20" stroke="#4a4aff" stroke-width="0.8" />
<rect x="222.30" y="193.90" width="2.6" height="2.6" fill="#fff" stroke="#2222ff" stroke-width="0.8"/>
<text transform="translate(231.70,197.65) scale(0.94,1)" font-size="6.7" text-anchor="start" fill="#222" class="lg">400 W</text>
<text x="124.50" y="160.20" font-size="13.5" text-anchor="middle" fill="#111">Thickness (Å)</text>
<text x="125.30" y="329.40" font-size="13.5" text-anchor="middle" fill="#111">Thickness (Å)</text>
<text x="299.60" y="160.10" font-size="13.5" text-anchor="middle" fill="#111" letter-spacing="0.3">RA (kΩ·μm<tspan font-size="9.5" dy="-4.6">2</tspan><tspan dy="4.6">)</tspan></text>
<text x="300.30" y="329.40" font-size="13.5" text-anchor="middle" fill="#111" letter-spacing="0.3">RA (kΩ·μm<tspan font-size="9.5" dy="-4.6">2</tspan><tspan dy="4.6">)</tspan></text>
<text transform="translate(12.6,79) rotate(-90)" font-size="12.6" text-anchor="middle" fill="#111">β</text>
<text transform="translate(10.7,247.2) rotate(-90)" font-size="13" text-anchor="middle" fill="#111">ln(η)</text>
<text transform="translate(419.4,245.0) rotate(-90)" font-size="10" text-anchor="middle" fill="#111">η (years)</text>
</svg>
</body></html>
